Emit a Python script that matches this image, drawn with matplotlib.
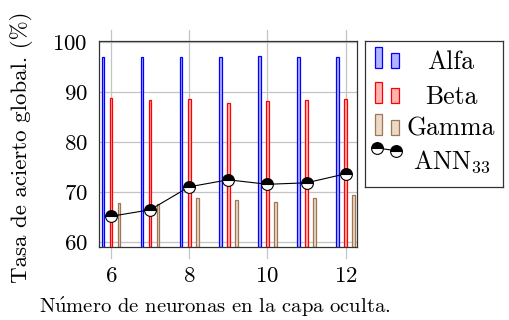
import matplotlib
matplotlib.use("Agg")
import matplotlib.pyplot as plt
from matplotlib.patches import Rectangle
from matplotlib.lines import Line2D

plt.rcParams['font.family'] = ['cmr10', 'DejaVu Serif']
plt.rcParams['mathtext.fontset'] = 'cm'
plt.rcParams['axes.formatter.use_mathtext'] = True

neurons = [6, 7, 8, 9, 10, 11, 12]
alfa = [97.0, 97.0, 97.0, 97.1, 97.3, 97.0, 97.1]
beta = [88.8, 88.5, 88.6, 87.8, 88.2, 88.5, 88.6]
gamma = [67.8, 67.7, 68.8, 68.5, 68.1, 68.8, 69.5]
ann33 = [65.2, 66.5, 71.1, 72.5, 71.6, 71.9, 73.7]
xticks = [6, 8, 10, 12]
yticks = [60, 70, 80, 90, 100]
series_names = ['Alfa', 'Beta', 'Gamma', r'ANN$_{33}$']

W, H = 509, 320
fig = plt.figure(figsize=(W / 100, H / 100), dpi=100)
ax = fig.add_axes([99 / W, 1 - 247.3 / H, (357.3 - 99) / W, (247.3 - 40.7) / H])
ax.set_xlim(5.693, 12.297)
ax.set_ylim(59.0, 100.32)

grid_c = '#c4c4c4'
for yv in yticks:
    ax.axhline(yv, color=grid_c, lw=0.9, zorder=0)
for xv in xticks:
    ax.axvline(xv, ymin=-0.052, ymax=1.052, color=grid_c, lw=0.9, zorder=0, clip_on=False)

off = 0.205
bw = 0.065
base = 59.0
specs = [
    (alfa, -off, '#0000ff', '#b3b3ff'),
    (beta, 0.0, '#ff0000', '#ffb3b3'),
    (gamma, off, '#9c7656', '#ecd9c6'),
]
for vals, o, ec, fc in specs:
    ax.bar([n + o for n in neurons], [v - base for v in vals], bottom=base, width=bw,
           color=fc, edgecolor=ec, linewidth=0.9, zorder=2)

ax.plot(neurons, ann33, color='black', lw=0.8, marker='o', markersize=8.5,
        fillstyle='top', markerfacecolor='black', markerfacecoloralt='white',
        markeredgecolor='black', markeredgewidth=0.8, zorder=3)

ax.set_xticks(xticks)
ax.set_yticks(yticks)
ax.tick_params(axis='both', labelsize=16.5, length=0)
ax.tick_params(axis='y', pad=8)
ax.tick_params(axis='x', pad=14)
for s in ax.spines.values():
    s.set_linewidth(0.9)
    s.set_color('#333333')

fig.text(22 / W, 1 - 147 / H, 'Tasa de acierto global. (%)', rotation=90,
         ha='center', va='center', fontsize=16.5)
fig.text(215 / W, 1 - 307 / H, r'N$\acute{\mathrm{u}}$mero de neuronas en la capa oculta.',
         ha='center', va='center', fontsize=14.8)

# legend box
lx0, ly0, lw_, lh_ = 365, 41, 138, 146
lax = fig.add_axes([lx0 / W, 1 - (ly0 + lh_) / H, lw_ / W, lh_ / H])
lax.set_xlim(0, lw_)
lax.set_ylim(lh_, 0)
lax.set_xticks([])
lax.set_yticks([])
for s in lax.spines.values():
    s.set_linewidth(0.9)
    s.set_color('#333333')

rows_y = [21, 56, 87.5]
for (vals, o, ec, fc), ry, name in zip(specs, rows_y, series_names[:3]):
    lax.add_patch(Rectangle((10, ry - 15), 6.5, 21, facecolor=fc, edgecolor=ec, lw=0.9))
    lax.add_patch(Rectangle((26, ry - 9), 7.5, 15, facecolor=fc, edgecolor=ec, lw=0.9))
    lax.text(86, ry, name, ha='center', va='center', fontsize=18.5)
lax.add_line(Line2D([12, 31], [107, 109.7], color='black', lw=0.8, marker='o', markersize=8.5,
                    fillstyle='top', markerfacecolor='black', markerfacecoloralt='white',
                    markeredgecolor='black', markeredgewidth=0.8))
lax.text(87, 121, series_names[3], ha='center', va='center', fontsize=18.5)

fig.savefig('out.png', dpi=100)
